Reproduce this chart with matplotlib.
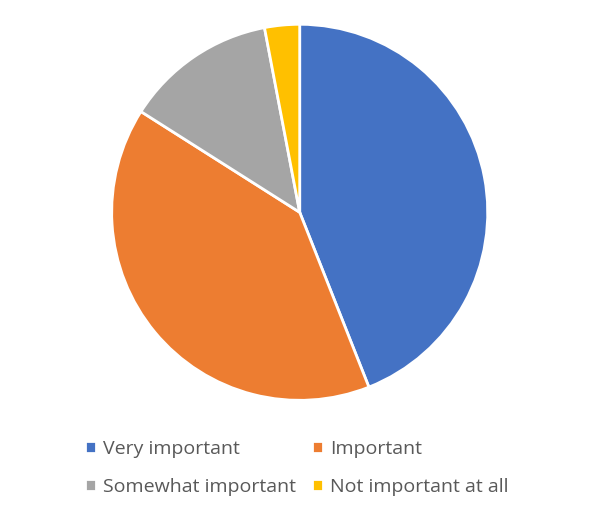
import matplotlib.pyplot as plt

# Datos
categorias = ['Very important', 'Important', 'Somewhat important', 'Not important at all']
valores = [44, 40, 13, 3]
colores = ['#4472C4', '#ED7D31', '#A5A5A5', '#FFC000']

plt.rcParams['font.family'] = ['Open Sans', 'DejaVu Sans']

fig = plt.figure(figsize=(6, 5.21), dpi=100)
ax = fig.add_axes([0.183, 0.228, 0.633, 0.729])
wedges, _ = ax.pie(valores, colors=colores, startangle=90, counterclock=False,
                   wedgeprops=dict(edgecolor='white', linewidth=2))
ax.set_xlim(-1.01, 1.01)
ax.set_ylim(-1.01, 1.01)
ax.set_aspect('equal')

# Orden por filas como en el original
orden = [0, 2, 1, 3]
fig.legend([wedges[i] for i in orden], [categorias[i] for i in orden],
           loc='center', bbox_to_anchor=(0.495, 0.102), ncol=2,
           frameon=False, fontsize=14, labelcolor='#595959', handlelength=0.55,
           handleheight=0.55, handletextpad=0.4, columnspacing=0.8, labelspacing=1.0)

plt.savefig('out.png', dpi=100)
